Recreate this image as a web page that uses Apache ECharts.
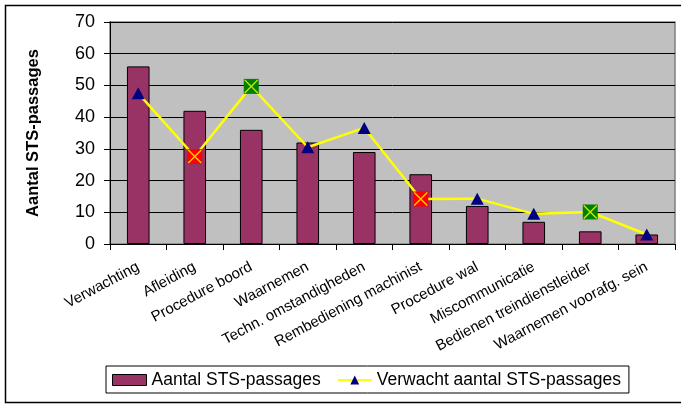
<!DOCTYPE html>
<html>
<head>
<meta charset="utf-8">
<script src="https://cdn.jsdelivr.net/npm/echarts@6/dist/echarts.min.js"></script>
<style>html,body{margin:0;padding:0;background:#fff;}#c{width:681px;height:405px;}</style>
</head>
<body>
<div id="c"></div>
<script>
const categories = ['Verwachting','Afleiding','Procedure boord','Waarnemen','Techn. omstandigheden','Rembediening machinist','Procedure wal','Miscommunicatie','Bedienen treindienstleider','Waarnemen voorafg. sein'];
const actual = [56, 42, 36, 32, 29, 22, 12, 7, 4, 3];
const expected = [47.5, 27.6, 49.7, 30.5, 36.6, 14.2, 14.3, 9.5, 10.1, 3];
const markerKinds = ['triangle','red','green','triangle','triangle','red','triangle','triangle','green','triangle'];
const yTicks = [0, 10, 20, 30, 40, 50, 60, 70];
const barName = 'Aantal STS-passages';
const lineName = 'Verwacht aantal STS-passages';

const FONT = 'Liberation Sans, Arial, sans-serif';
const xPath = 'path://M0,0.7 L0.7,0 L5,4.3 L9.3,0 L10,0.7 L5.7,5 L10,9.3 L9.3,10 L5,5.7 L0.7,10 L0,9.3 L4.3,5 Z';

const lineData = expected.map((v, i) => {
  const k = markerKinds[i];
  if (k === 'triangle') return { value: v, symbol: 'triangle', symbolSize: [13, 12], itemStyle: { color: '#000080' } };
  return { value: v, symbol: 'rect', symbolSize: 15, itemStyle: { color: k === 'red' ? '#FF0000' : '#008000' } };
});
const crossData = expected.map((v, i) => markerKinds[i] === 'triangle' ? null : v);

const chart = echarts.init(document.getElementById('c'), null, { renderer: 'canvas' });
chart.setOption({
  animation: false,
  backgroundColor: '#ffffff',
  textStyle: { fontFamily: FONT },
  graphic: [{
    type: 'rect', silent: true, z: -10,
    shape: { x: 5.5, y: 5.5, width: 720, height: 397 },
    style: { fill: 'none', stroke: '#000', lineWidth: 1.5 }
  }],
  grid: {
    left: 110, right: 6, top: 22, bottom: 161,
    show: true, backgroundColor: '#C0C0C0', borderColor: '#808080', borderWidth: 1.5
  },
  legend: {
    left: 106, top: 366,
    backgroundColor: '#fff', borderColor: '#000', borderWidth: 1,
    padding: [5, 8, 4, 6], itemGap: 16,
    textStyle: { fontFamily: FONT, fontSize: 17.5, color: '#000' },
    data: [
      { name: barName, icon: 'rect', itemStyle: { color: '#993366', borderColor: '#000', borderWidth: 1 } },
      { name: lineName }
    ],
    itemWidth: 34, itemHeight: 11
  },
  xAxis: {
    type: 'category', data: categories,
    axisLine: { lineStyle: { color: '#000', width: 1 } },
    axisTick: { show: true, length: 6, lineStyle: { color: '#000' } },
    axisLabel: { rotate: 28, interval: 0, fontSize: 15, color: '#000', fontFamily: FONT, margin: 22 }
  },
  yAxis: {
    type: 'value', min: yTicks[0], max: yTicks[yTicks.length - 1], interval: 10,
    name: 'Aantal STS-passages', nameLocation: 'middle', nameGap: 68,
    nameTextStyle: { fontWeight: 'bold', fontSize: 16.5, color: '#000', fontFamily: FONT },
    axisLine: { show: true, lineStyle: { color: '#000', width: 1 } },
    axisTick: { show: true, length: 6, lineStyle: { color: '#000' } },
    axisLabel: { fontSize: 18, color: '#000', fontFamily: FONT, margin: 15 },
    splitLine: { lineStyle: { color: '#000', width: 1 } }
  },
  series: [
    {
      name: barName, type: 'bar', data: actual, barWidth: '40%',
      itemStyle: { color: '#993366', borderColor: '#000', borderWidth: 1 }
    },
    {
      name: lineName, type: 'line', data: lineData, symbol: 'triangle', symbolSize: 13,
      itemStyle: { color: '#000080' },
      lineStyle: { color: '#FFFF00', width: 2.5 }, z: 3
    },
    {
      name: 'cross', type: 'scatter', data: crossData, symbol: xPath, symbolSize: 14,
      itemStyle: { color: '#FFFF00' }, z: 4, silent: true
    }
  ]
});
</script>
</body>
</html>
